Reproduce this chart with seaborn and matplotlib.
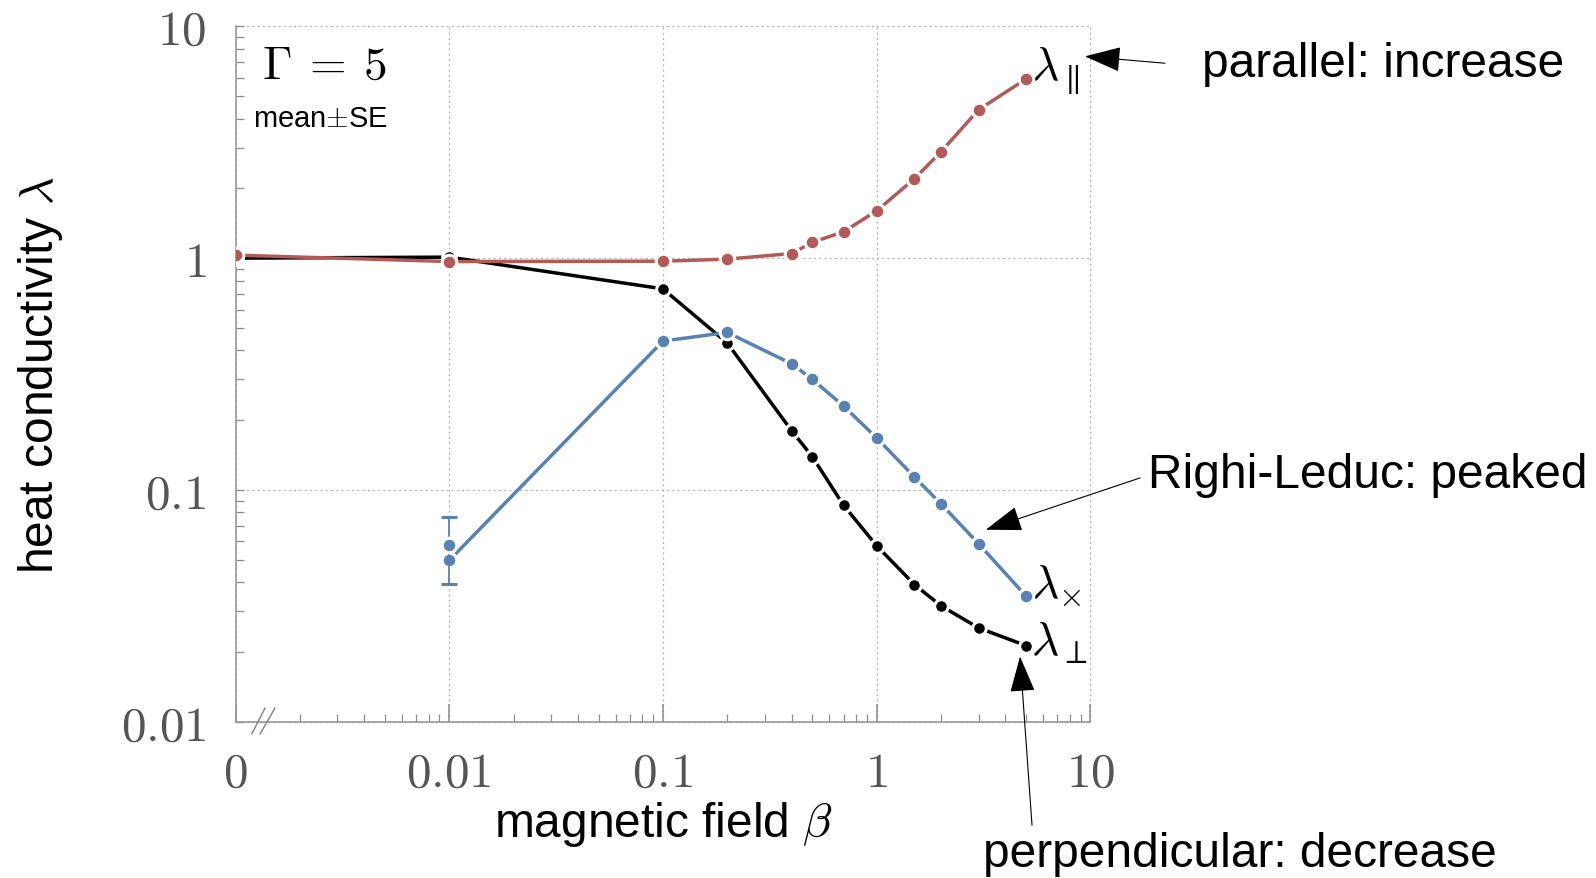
import numpy as np
import pandas as pd
import matplotlib
matplotlib.use("Agg")
import matplotlib.pyplot as plt
import seaborn as sns
from matplotlib.ticker import FixedLocator, FixedFormatter, LogLocator, NullFormatter
from matplotlib.patches import ArrowStyle

# ---------------- data ----------------
beta = [0, 0.01, 0.1, 0.2, 0.4, 0.5, 0.7, 1, 1.5, 2, 3, 5]
lam_par = [1.03, 0.967, 0.97, 0.99, 1.047, 1.17, 1.30, 1.60, 2.20, 2.88, 4.37, 5.93]
lam_perp = [1.00, 1.01, 0.737, 0.43, 0.180, 0.139, 0.0858, 0.0574, 0.0391, 0.0316, 0.0254, 0.0213]
beta_cross = [0.01, 0.1, 0.2, 0.4, 0.5, 0.7, 1, 1.5, 2, 3, 5]
lam_cross = [0.0497, 0.439, 0.478, 0.35, 0.30, 0.230, 0.1675, 0.1138, 0.087, 0.0585, 0.0348]
se_beta = [0.01]
se_mean = [0.058]
se_err = [0.0187]

x_ticks = [0, 0.01, 0.1, 1, 10]
x_ticklabels = [r"$0$", r"$0.01$", r"$0.1$", r"$1$", r"$10$"]
y_ticks = [0.01, 0.1, 1, 10]
y_ticklabels = [r"$0.01$", r"$0.1$", r"$1$", r"$10$"]

ZERO_POS = 1e-3  # where beta = 0 is drawn on the broken log axis


def xpos(v):
    v = np.asarray(v, dtype=float)
    return np.where(v == 0, ZERO_POS, v)


RED = "#b35a58"
BLUE = "#5881b5"
BLACK = "#000000"

sns.set_theme(style="white")
plt.rcParams["font.family"] = ["Liberation Sans", "DejaVu Sans"]
plt.rcParams["mathtext.fontset"] = "cm"
plt.rcParams["text.color"] = "black"
plt.rcParams["axes.labelcolor"] = "black"

SANS = 34.5

fig = plt.figure(figsize=(15.96, 8.79), dpi=100)
ax = fig.add_axes([0.14756, 0.17770, 0.53571, 0.79124])
ax.set_xscale("log")
ax.set_yscale("log")

df_perp = pd.DataFrame({"beta": xpos(beta), "lam": lam_perp})
df_cross = pd.DataFrame({"beta": xpos(beta_cross), "lam": lam_cross})
df_par = pd.DataFrame({"beta": xpos(beta), "lam": lam_par})

common = dict(marker="o", markeredgecolor="white", markeredgewidth=2.2,
              linewidth=2.5, errorbar=None, ax=ax)
sns.lineplot(data=df_perp, x="beta", y="lam", color=BLACK, markersize=9.8, zorder=3, **common)
sns.lineplot(data=df_cross, x="beta", y="lam", color=BLUE, markersize=10.5, zorder=4, **common)
sns.lineplot(data=df_par, x="beta", y="lam", color=RED, markersize=10.5, zorder=5, **common)

ax.errorbar(se_beta, se_mean, yerr=se_err, fmt="o", color=BLUE, ms=10.5,
            mec="white", mew=2.2, elinewidth=1.3, capsize=6, capthick=1.3, zorder=4.5)

ax.set_xlim(ZERO_POS, 10)
ax.set_ylim(0.01, 10)

ax.xaxis.set_major_locator(FixedLocator(list(xpos(x_ticks))))
ax.xaxis.set_major_formatter(FixedFormatter(x_ticklabels))
ax.xaxis.set_minor_locator(LogLocator(base=10, subs=np.arange(2, 10), numticks=30))
ax.xaxis.set_minor_formatter(NullFormatter())
ax.yaxis.set_major_locator(FixedLocator(y_ticks))
ax.yaxis.set_major_formatter(FixedFormatter(y_ticklabels))
ax.yaxis.set_minor_locator(LogLocator(base=10, subs=np.arange(2, 10), numticks=30))
ax.yaxis.set_minor_formatter(NullFormatter())

ax.tick_params(axis="both", which="both", direction="in", color="#8a8a8a",
               labelsize=35.5, labelcolor="#555555", pad=21,
               top=False, right=False, bottom=True, left=True)
ax.tick_params(axis="x", which="major", length=13, width=1.1)
ax.tick_params(axis="x", which="minor", length=5.8, width=0.9)
ax.tick_params(axis="y", which="both", length=5.8, width=0.9)

ax.grid(which="major", linestyle=(0, (1.6, 2.6)), color="#b0b0b0", linewidth=0.9)
for gl in ax.get_xgridlines() + ax.get_ygridlines():
    gl.set_clip_on(False)
ax.set_axisbelow(True)

for s in ["top", "right"]:
    ax.spines[s].set_visible(False)
for s in ["left", "bottom"]:
    ax.spines[s].set_color("#9a9a9a")
    ax.spines[s].set_linewidth(1.2)

# axis break marks near beta = 0
for x0, x1 in [(0.019, 0.0345), (0.0287, 0.0462)]:
    ax.plot([x0, x1], [-0.0175, 0.0198], transform=ax.transAxes, color="#8a8a8a",
            lw=1.1, clip_on=False, zorder=6)

ax.set_xlabel(r"magnetic field $\beta$", fontsize=SANS, color="black")
ax.xaxis.set_label_coords(0.5, -0.1638)
ax.xaxis.label.set_verticalalignment("baseline")
ax.set_ylabel(r"heat conductivity $\lambda$", fontsize=SANS, color="black")
ax.yaxis.set_label_coords(-0.2135, 0.5)
ax.yaxis.label.set_verticalalignment("baseline")

ax.text(0.0306, 0.9257, r"$\Gamma\:=\:5$", transform=ax.transAxes, fontsize=34,
        ha="left", va="baseline", color="black")
ax.text(0.0208, 0.857, r"mean$\pm$SE", transform=ax.transAxes, fontsize=21,
        ha="left", va="baseline", color="black")

# curve labels
ax.annotate(r"$\lambda_{\parallel}$", xy=(beta[-1], lam_par[-1]), xytext=(3.5, 0),
            textcoords="offset points", fontsize=34, ha="left", va="baseline", color="black")
ax.annotate(r"$\lambda_{\times}$", xy=(beta_cross[-1], lam_cross[-1]), xytext=(3.5, -1),
            textcoords="offset points", fontsize=34, ha="left", va="baseline", color="black")
ax.annotate(r"$\lambda_{\perp}$", xy=(beta[-1], lam_perp[-1]), xytext=(3.5, -6.5),
            textcoords="offset points", fontsize=34, ha="left", va="baseline", color="black")

# explanatory arrows
arrow_kw = dict(arrowstyle=ArrowStyle("-|>", head_length=23, head_width=8),
                color="black", lw=0.8, shrinkA=0, shrinkB=0, mutation_scale=1)
ax.annotate("", xy=(9.42, 7.42), xytext=(22.3, 6.93), arrowprops=arrow_kw,
            annotation_clip=False)
ax.text(33.2, 6.09, "parallel: increase", fontsize=SANS, ha="left", va="baseline",
        clip_on=False, color="black")
ax.annotate("", xy=(3.24, 0.0674), xytext=(17.05, 0.1127), arrowprops=arrow_kw,
            annotation_clip=False)
ax.text(18.48, 0.1033, "Righi-Leduc: peaked", fontsize=SANS, ha="left", va="baseline",
        clip_on=False, color="black")
ax.annotate("", xy=(4.68, 0.01912), xytext=(5.325, 0.003583), arrowprops=arrow_kw,
            annotation_clip=False)
ax.text(3.14, 0.002378, "perpendicular: decrease", fontsize=SANS, ha="left", va="baseline",
        clip_on=False, color="black")

fig.savefig("out.png", dpi=100)
